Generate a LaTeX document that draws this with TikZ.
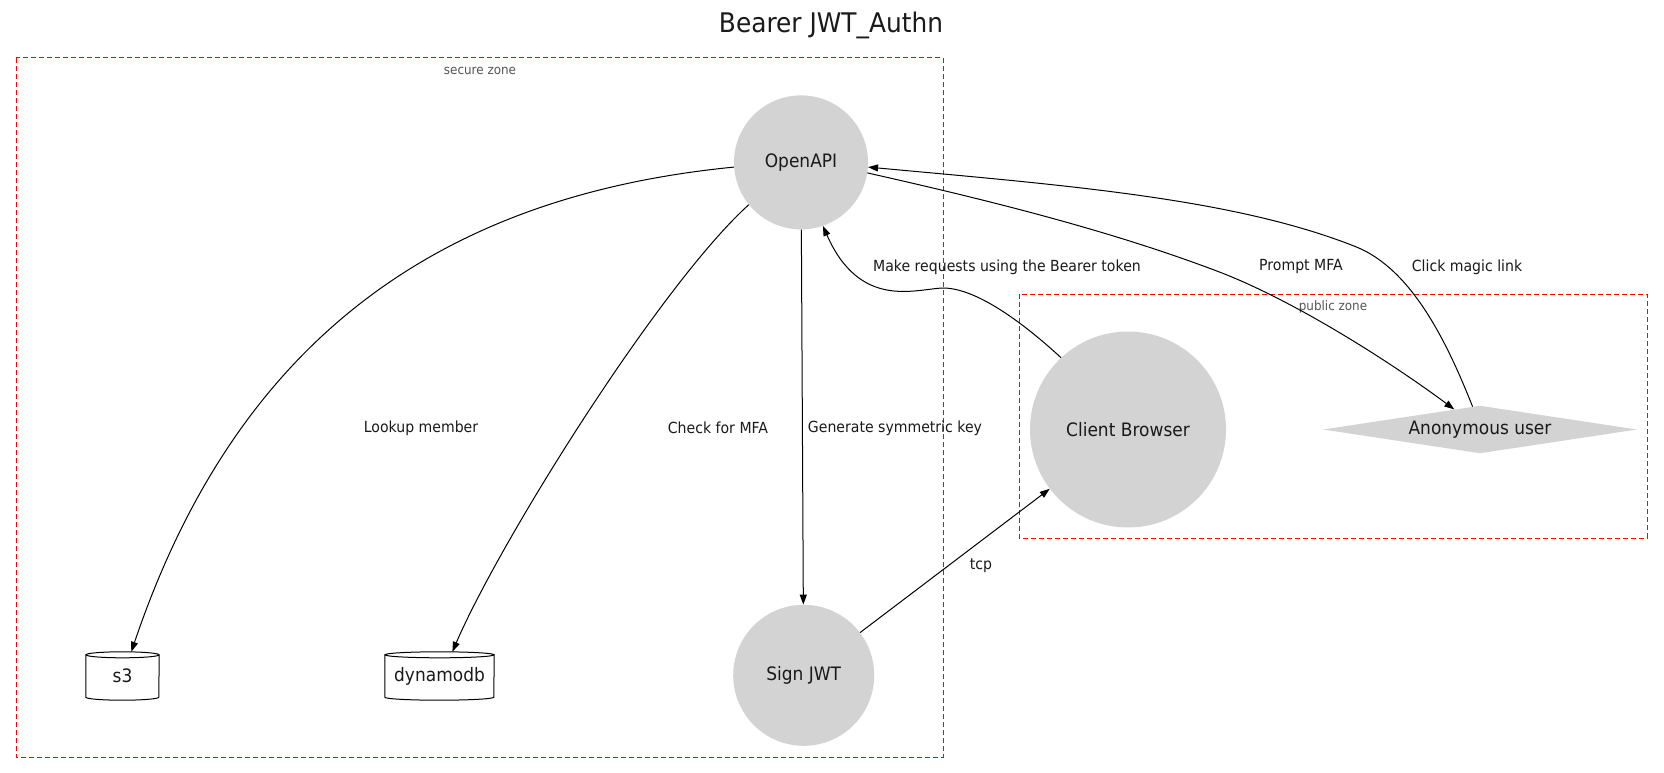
\documentclass[tikz,border=0pt]{standalone}
\usepackage{fontspec}
\setmainfont{DejaVu Sans}[FakeStretch=0.92]
\usetikzlibrary{shapes.geometric,arrows.meta,calc}
\definecolor{nodegray}{HTML}{D3D3D3}
\definecolor{zonegray}{HTML}{555555}
\definecolor{textblack}{HTML}{1A1A1A}
\newcommand{\dbcyl}[2]{%
  \draw[line width=1pt] ($(#1.north west)+(0,3)$) -- ($(#1.south west)+(0,-3)$)
     arc[start angle=180,end angle=360,x radius=#2,y radius=3pt] -- ($(#1.north east)+(0,3)$);
  \draw[line width=1pt] ($(#1.north)+(0,3)$) ellipse [x radius=#2,y radius=3pt];}
\begin{document}
\begin{tikzpicture}[x=1pt,y=-1pt,
  circnode/.style={circle, fill=nodegray, draw=none, inner sep=0pt, text=textblack,
    font=\fontsize{18.5}{22}\selectfont},
  dianode/.style={diamond, aspect=6.6, fill=nodegray, draw=none, inner sep=0pt, text=textblack,
    minimum width=314pt, minimum height=47.6pt, font=\fontsize{18.5}{22}\selectfont},
  dbnode/.style={rectangle, draw=none, inner sep=0pt, text=textblack,
    minimum height=48pt, font=\fontsize{18.5}{22}\selectfont},
  elabel/.style={inner sep=0pt, text=textblack, font=\fontsize{15.3}{18}\selectfont},
  zonelabel/.style={inner sep=0pt, text=zonegray, font=\fontsize{13}{15}\selectfont},
  zone/.style={draw=red, line width=1pt, dash pattern=on 5pt off 3pt},
  conn/.style={draw=black, line width=1pt, -{Triangle[length=10pt,width=7pt]}}
]
\useasboundingbox (0,0) rectangle (1664,773);
\fill[white] (0,0) rectangle (1664,773);

% title
\node[inner sep=0pt, text=textblack, font=\fontsize{27}{32}\selectfont] (title) at (831,25) {Bearer JWT\_Authn};

% zones
\draw[zone] (16,58) rectangle (943,757);
\node[zonelabel] (securelbl) at (480,71) {secure zone};
\draw[zone] (1019,294) rectangle (1647,538);
\node[zonelabel] (publiclbl) at (1333,307) {public zone};

% nodes
\node[circnode, minimum size=134pt] (o) at (801,162.4) {OpenAPI};
\node[circnode, minimum size=141pt] (sj) at (803.7,675.3) {Sign JWT};
\node[circnode, minimum size=196pt] (cb) at (1128,429.5) {Client Browser};
\node[dianode] (an) at (1480,429.5) {Anonymous user};
\node[dbnode, minimum width=73pt] (s3) at (122.5,676) {s3};
\node[dbnode, minimum width=109pt] (db) at (439.5,676) {dynamodb};
\dbcyl{s3}{36.5pt}
\dbcyl{db}{54.5pt}

% edges
\draw[conn] (o.184) .. controls (450,195) and (240,330) .. (s3.70);
\draw[conn] (o.219) .. controls (660,285) and (500,541) .. (db.62);
\draw[conn] (o) -- (sj);
\draw[conn] (cb.133) .. controls (1020,320) and (975,288) .. (943,288)
   .. controls (915,289) and (860,310) .. (o.289);
\draw[conn] (o.351) .. controls (983,199) and (1110,230) .. (1222,273)
   .. controls (1296,302) and (1389,361) .. (an.142);
\draw[conn] (an.108) .. controls (1446.8,341.6) and (1411.5,268.9) .. (1355.7,246.7)
   .. controls (1234.8,198.6) and (1068,185.5) .. (o.356);
\draw[conn] (sj) -- (cb);

% edge labels
\node[elabel] (l1) at (421,428) {Lookup member};
\node[elabel] (l2) at (718,428) {Check for MFA};
\node[elabel] (l3) at (895,428) {Generate symmetric key};
\node[elabel] (l4) at (1007,267) {Make requests using the Bearer token};
\node[elabel] (l5) at (1301,267) {Prompt MFA};
\node[elabel] (l6) at (1467,267) {Click magic link};
\node[elabel] (l7) at (981,566) {tcp};
\end{tikzpicture}
\end{document}
